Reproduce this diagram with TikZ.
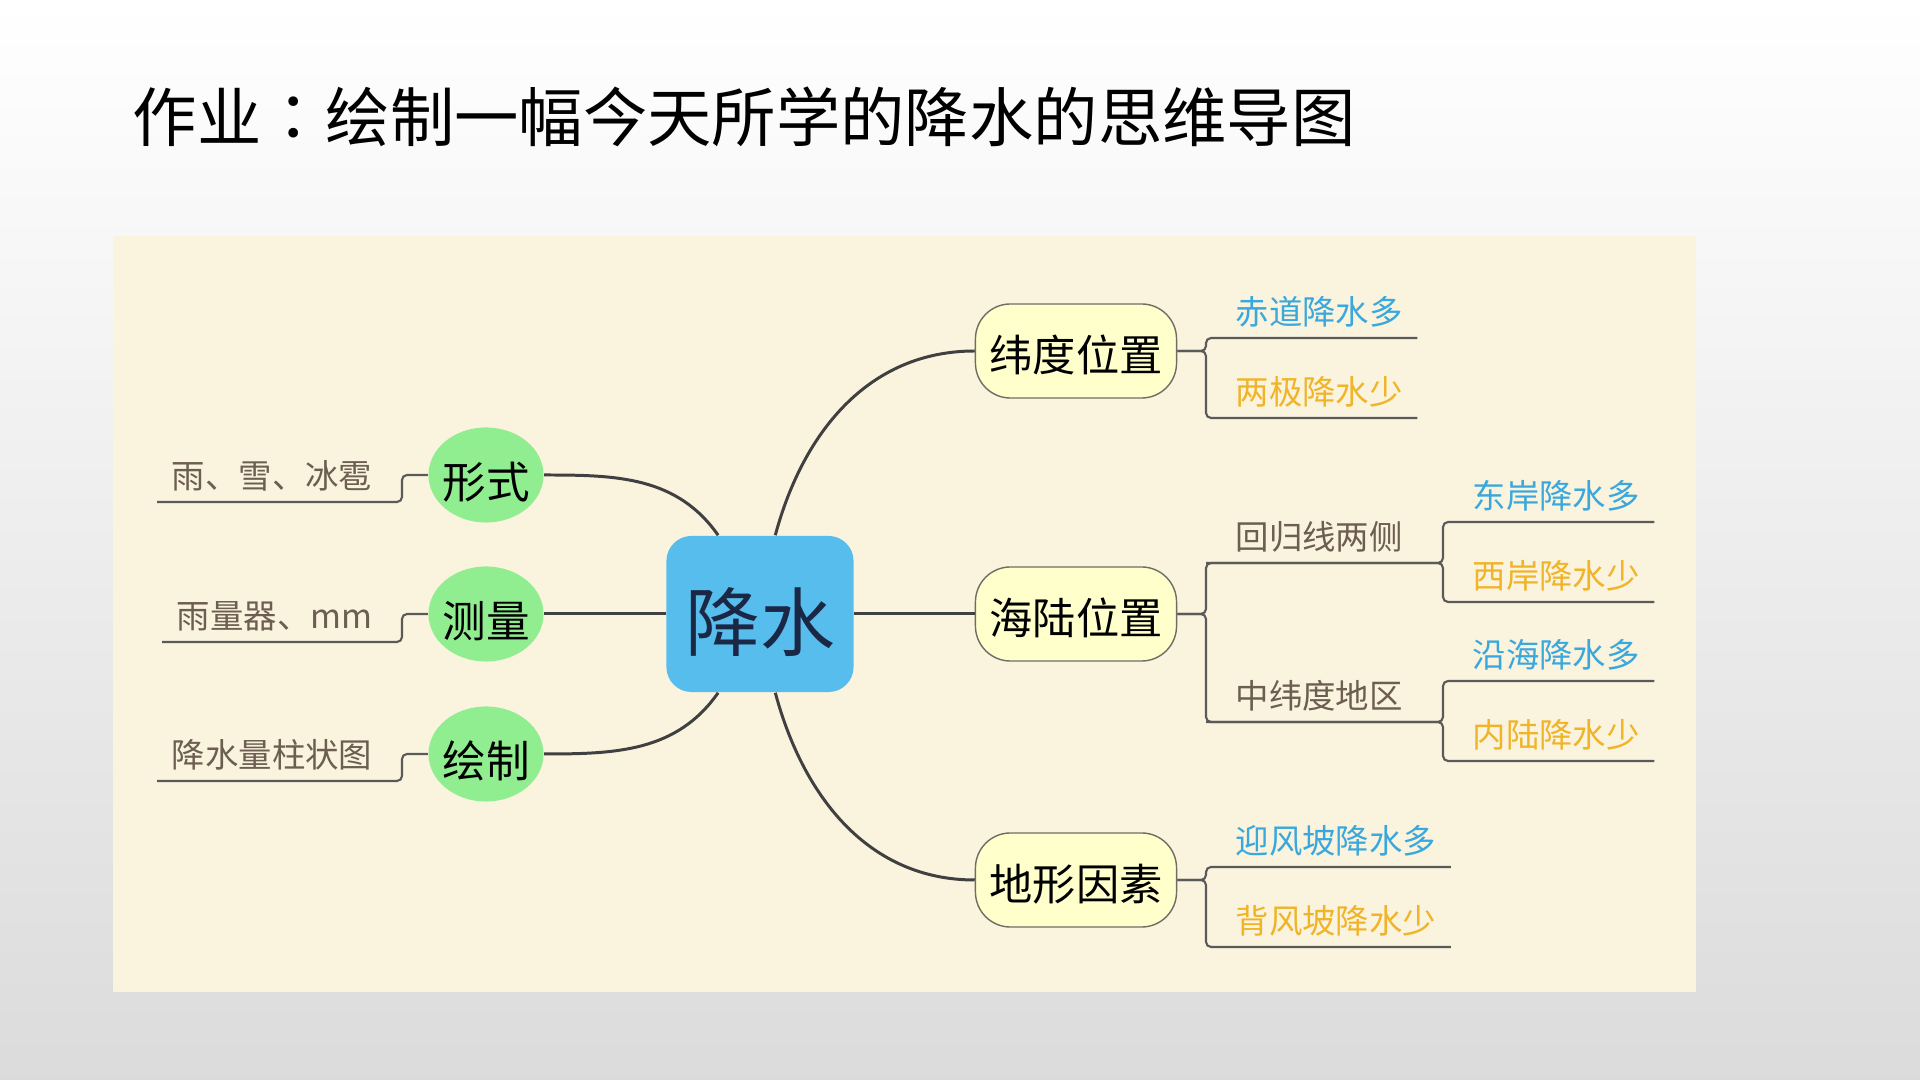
\documentclass[tikz,border=0pt]{standalone}
\usepackage{fontspec}
\setmainfont{Noto Sans CJK SC}
\newfontfamily\tcfont{Noto Sans CJK TC}
\usepackage{xcolor}
\usepackage{tikz}
\usetikzlibrary{shapes.geometric}

\definecolor{panelcream}{RGB}{250,243,222}
\definecolor{rootblue}{RGB}{86,189,236}
\definecolor{rootink}{RGB}{26,40,70}
\definecolor{methodgreen}{RGB}{144,238,144}
\definecolor{factorfill}{RGB}{255,255,204}
\definecolor{factorline}{RGB}{110,110,100}
\definecolor{wetblue}{RGB}{58,168,220}
\definecolor{dryorange}{RGB}{240,180,40}
\definecolor{notebrown}{RGB}{108,94,80}
\definecolor{branchgray}{RGB}{64,64,64}
\definecolor{twiggray}{RGB}{90,90,90}

\begin{document}
\begin{tikzpicture}[
    x=0.01cm, y=-0.01cm,
    headline/.style={inner sep=0pt, font=\fontsize{18.3}{20}\selectfont},
    root/.style={fill=rootblue, rounded corners=0.25cm, minimum width=1.87cm, minimum height=1.56cm, text=rootink, text height=0.82cm, text depth=0.09cm, font=\fontsize{21.3}{24}\selectfont},
    method/.style={ellipse, fill=methodgreen, minimum width=1.15cm, minimum height=0.95cm, inner xsep=-0.03cm, inner ysep=0pt, text height=0.51cm, text depth=0.05cm, font=\fontsize{12.4}{14}\selectfont},
    factor/.style={draw=factorline, line width=0.4pt, fill=factorfill, rounded corners=0.35cm, minimum width=2.01cm, minimum height=0.94cm, text height=0.46cm, text depth=0.05cm, font=\fontsize{12.3}{14}\selectfont},
    leaf/.style={inner xsep=0.29cm, inner ysep=0.06cm, text height=0.29cm, text depth=0.07cm, font=\fontsize{9.5}{10}\selectfont},
    wet/.style={leaf, text=wetblue, anchor=south west},
    dry/.style={leaf, text=dryorange, anchor=south west},
    note/.style={leaf, text=notebrown},
    branch/.style={draw=branchgray, line width=0.85pt},
    twig/.style={draw=twiggray, line width=0.6pt, rounded corners=0.05cm}
]
\useasboundingbox (0,0) rectangle (1920,1080);
\shade[top color=white, bottom color=gray!28] (0,0) rectangle (1920,1080);
\fill[panelcream] (113,236) rectangle (1696,992);

\node[headline, anchor=west] (headline) at (132,117) {作业{\tcfont ：}绘制一幅今天所学的降水的思维导图};

\node[root] (jiangshui) at (760,614) {降水};

\node[method] (xingshi) at (486,475) {形式};
\node[method] (celiang) at (486,614) {测量};
\node[method] (huizhi) at (486,754) {绘制};

\node[note, anchor=south east] (yuxue) at (402,502) {雨、雪、冰雹};
\node[note, anchor=south east] (yuliang) at (402,642) {雨量器、mm};
\node[note, anchor=south east] (zhuzhuang) at (402,781) {降水量柱状图};

\node[factor] (weidu) at (1076,351) {纬度位置};
\node[factor] (hailu) at (1076,614) {海陆位置};
\node[factor] (dixing) at (1076,880) {地形因素};

\node[wet] (chidao) at (1206,338) {赤道降水多};
\node[dry] (liangji) at (1206,418) {两极降水少};

\node[note, anchor=south west] (huigui) at (1206,563) {回归线两侧};
\node[note, anchor=south west] (zhongwei) at (1206,722) {中纬度地区};
\node[wet] (dongan) at (1443,522) {东岸降水多};
\node[dry] (xian) at (1443,602) {西岸降水少};
\node[wet] (yanhai) at (1443,681) {沿海降水多};
\node[dry] (neilu) at (1443,761) {内陆降水少};

\node[wet] (yingfeng) at (1206,867) {迎风坡降水多};
\node[dry] (beifeng) at (1206,947) {背风坡降水少};

\draw[branch] (jiangshui.118) to[out=125, in=0] (xingshi.east);
\draw[branch] (jiangshui.west) -- (celiang.east);
\draw[branch] (jiangshui.242) to[out=235, in=0] (huizhi.east);
\draw[branch] (jiangshui.79) to[out=75, in=180] (weidu.west);
\draw[branch] (jiangshui.east) -- (hailu.west);
\draw[branch] (jiangshui.281) to[out=-75, in=180] (dixing.west);

% left side: underlined notes
\draw[twig] (xingshi.west) -| (yuxue.south east) -- ([xshift=0.15cm]yuxue.south west);
\draw[twig] (celiang.west) -| (yuliang.south east) -- ([xshift=0.15cm]yuliang.south west);
\draw[twig] (huizhi.west) -| (zhuzhuang.south east) -- ([xshift=0.15cm]zhuzhuang.south west);

% right side: brackets
\draw[twig] (weidu.east) -| (chidao.south west) -- ([xshift=-0.15cm]chidao.south east);
\draw[twig] (weidu.east) -| (liangji.south west) -- ([xshift=-0.15cm]liangji.south east);
\draw[twig] (hailu.east) -| (huigui.south west) -| (dongan.south west) -- ([xshift=-0.15cm]dongan.south east);
\draw[twig] (huigui.south west) -| (xian.south west) -- ([xshift=-0.15cm]xian.south east);
\draw[twig] (hailu.east) -| (zhongwei.south west) -| (yanhai.south west) -- ([xshift=-0.15cm]yanhai.south east);
\draw[twig] (zhongwei.south west) -| (neilu.south west) -- ([xshift=-0.15cm]neilu.south east);
\draw[twig] (dixing.east) -| (yingfeng.south west) -- ([xshift=-0.15cm]yingfeng.south east);
\draw[twig] (dixing.east) -| (beifeng.south west) -- ([xshift=-0.15cm]beifeng.south east);
\end{tikzpicture}
\end{document}
